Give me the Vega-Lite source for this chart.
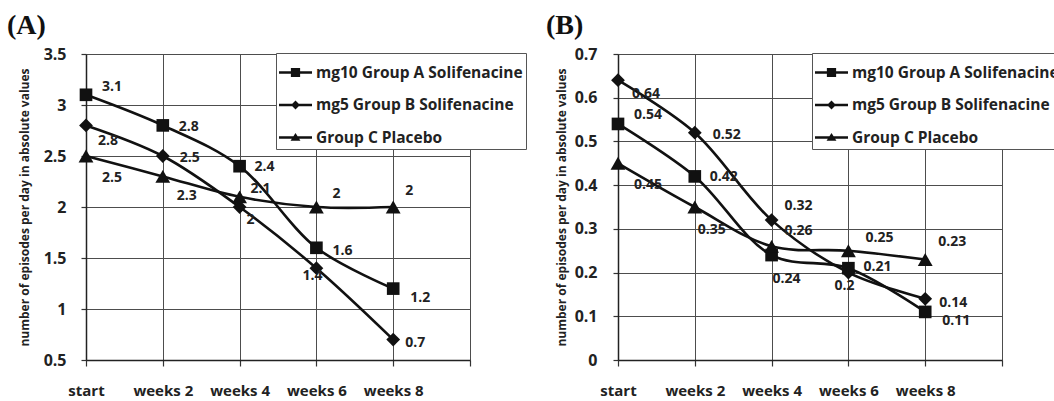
{
  "$schema": "https://vega.github.io/schema/vega-lite/v6.json",
  "background": "white",
  "padding": {"left": 7, "top": 12, "right": 0, "bottom": 0},
  "bounds": "flush",
  "spacing": 148,
  "config": {
    "font": "Open Sans",
    "view": {"stroke": null},
    "axis": {
      "domainColor": "#222", "domainWidth": 1.5,
      "gridColor": "#4d4d4d", "gridWidth": 1,
      "tickColor": "#333", "tickWidth": 1.2,
      "labelFont": "Open Sans", "labelFontWeight": "bold", "labelColor": "#222",
      "titleFont": "Open Sans", "titleFontWeight": "bold", "titleColor": "#222",
      "labelFlush": false, "labelOverlap": false, "labelBound": false
    },
    "title": {"font": "Liberation Serif", "fontSize": 28, "fontWeight": "bold", "color": "#111", "anchor": "start", "frame": "group", "offset": 6}
  },
  "datasets": {
    "a": [
      {"group": "A", "series": "mg10 Group A Solifenacine", "week": 0, "value": 3.1},
      {"group": "A", "series": "mg10 Group A Solifenacine", "week": 1, "value": 2.8},
      {"group": "A", "series": "mg10 Group A Solifenacine", "week": 2, "value": 2.4},
      {"group": "A", "series": "mg10 Group A Solifenacine", "week": 3, "value": 1.6},
      {"group": "A", "series": "mg10 Group A Solifenacine", "week": 4, "value": 1.2},
      {"group": "B", "series": "mg5 Group B Solifenacine", "week": 0, "value": 2.8},
      {"group": "B", "series": "mg5 Group B Solifenacine", "week": 1, "value": 2.5},
      {"group": "B", "series": "mg5 Group B Solifenacine", "week": 2, "value": 2.0},
      {"group": "B", "series": "mg5 Group B Solifenacine", "week": 3, "value": 1.4},
      {"group": "B", "series": "mg5 Group B Solifenacine", "week": 4, "value": 0.7},
      {"group": "C", "series": "Group C Placebo", "week": 0, "value": 2.5},
      {"group": "C", "series": "Group C Placebo", "week": 1, "value": 2.3},
      {"group": "C", "series": "Group C Placebo", "week": 2, "value": 2.1},
      {"group": "C", "series": "Group C Placebo", "week": 3, "value": 2.0},
      {"group": "C", "series": "Group C Placebo", "week": 4, "value": 2.0}
    ],
    "b": [
      {"group": "A", "series": "mg10 Group A Solifenacine", "week": 0, "value": 0.54},
      {"group": "A", "series": "mg10 Group A Solifenacine", "week": 1, "value": 0.42},
      {"group": "A", "series": "mg10 Group A Solifenacine", "week": 2, "value": 0.24},
      {"group": "A", "series": "mg10 Group A Solifenacine", "week": 3, "value": 0.21},
      {"group": "A", "series": "mg10 Group A Solifenacine", "week": 4, "value": 0.11},
      {"group": "B", "series": "mg5 Group B Solifenacine", "week": 0, "value": 0.64},
      {"group": "B", "series": "mg5 Group B Solifenacine", "week": 1, "value": 0.52},
      {"group": "B", "series": "mg5 Group B Solifenacine", "week": 2, "value": 0.32},
      {"group": "B", "series": "mg5 Group B Solifenacine", "week": 3, "value": 0.2},
      {"group": "B", "series": "mg5 Group B Solifenacine", "week": 4, "value": 0.14},
      {"group": "C", "series": "Group C Placebo", "week": 0, "value": 0.45},
      {"group": "C", "series": "Group C Placebo", "week": 1, "value": 0.35},
      {"group": "C", "series": "Group C Placebo", "week": 2, "value": 0.26},
      {"group": "C", "series": "Group C Placebo", "week": 3, "value": 0.25},
      {"group": "C", "series": "Group C Placebo", "week": 4, "value": 0.23}
    ]
  },
  "hconcat": [
    {
      "width": 384,
      "height": 306,
      "title": {"text": "(A)", "dx": -79},
      "data": {"name": "a"},
      "encoding": {
        "x": {"field": "week", "type": "quantitative", "scale": {"domain": [0, 5], "nice": false},
          "axis": {"values": [0, 1, 2, 3, 4, 5], "labelExpr": "['start','weeks 2','weeks 4','weeks 6','weeks 8',''][datum.value]", "title": null, "grid": true, "tickSize": 6, "labelPadding": 17, "labelFontSize": 15}},
        "y": {"field": "value", "type": "quantitative", "scale": {"domain": [0.5, 3.5], "nice": false, "zero": false},
          "axis": {"values": [0.5, 1, 1.5, 2, 2.5, 3, 3.5], "format": "~g", "title": "number of episodes per day in absolute values", "titleFontSize": 12, "titlePadding": 12, "tickSize": 5, "labelPadding": 15, "labelFontSize": 16, "grid": true}}
      },
      "layer": [
        {"mark": {"type": "line", "interpolate": "catmull-rom", "color": "#111", "strokeWidth": 2.6}, "encoding": {"detail": {"field": "series"}}},
        {"mark": {"type": "point", "filled": true, "opacity": 1, "color": "#111"},
          "encoding": {
            "shape": {"field": "series", "scale": {"domain": ["mg10 Group A Solifenacine", "mg5 Group B Solifenacine", "Group C Placebo"], "range": ["square", "diamond", "triangle-up"]}, "legend": null},
            "size": {"field": "series", "scale": {"domain": ["mg10 Group A Solifenacine", "mg5 Group B Solifenacine", "Group C Placebo"], "range": [160, 220, 190]}, "legend": null}
          }},
        {"mark": {"type": "point", "filled": true, "opacity": 0, "color": "#111"},
          "encoding": {
            "shape": {"field": "series", "scale": {"domain": ["mg10 Group A Solifenacine", "mg5 Group B Solifenacine", "Group C Placebo"], "range": ["M-1,-0.075H1V0.075H-1Z M-0.28,-0.28H0.28V0.28H-0.28Z", "M-1,-0.075H1V0.075H-1Z M0,-0.27L0.27,0L0,0.27L-0.27,0Z", "M-1,-0.075H1V0.075H-1Z M0,-0.28L0.3,0.2H-0.3Z"]},
              "legend": {"title": null, "orient": "none", "legendX": 190, "legendY": -1, "padding": 3, "rowPadding": 7.5, "symbolSize": 1089, "symbolOpacity": 1, "symbolFillColor": "#111", "symbolStrokeWidth": 0, "labelFont": "Open Sans", "labelFontWeight": "bold", "labelFontSize": 15.5, "labelColor": "#222", "labelOffset": 4, "labelLimit": 400, "fillColor": "white", "strokeColor": "#555"}}
          }},
        {"mark": {"type": "text", "font": "Open Sans", "fontWeight": "bold", "fontSize": 14, "color": "#222", "align": "center", "baseline": "middle",
            "dx": {"expr": "({'A0':26,'A1':26,'A2':25,'A3':26,'A4':27,'B0':22,'B1':27,'B2':11,'B3':-4,'B4':22,'C0':26,'C1':24,'C2':21,'C3':20,'C4':16})[datum.group + datum.week]"},
            "dy": {"expr": "({'A0':-8,'A1':2,'A2':1,'A3':3,'A4':9,'B0':16,'B1':2,'B2':13,'B3':8,'B4':3,'C0':22,'C1':20,'C2':-8,'C3':-13,'C4':-16})[datum.group + datum.week]"}},
          "encoding": {"text": {"field": "value", "type": "quantitative", "format": "~g"}}}
      ],
      "resolve": {"scale": {"shape": "independent"}, "legend": {"shape": "independent"}}
    },
    {
      "width": 384,
      "height": 306,
      "title": {"text": "(B)", "dx": -72},
      "data": {"name": "b"},
      "encoding": {
        "x": {"field": "week", "type": "quantitative", "scale": {"domain": [0, 5], "nice": false},
          "axis": {"values": [0, 1, 2, 3, 4, 5], "labelExpr": "['start','weeks 2','weeks 4','weeks 6','weeks 8',''][datum.value]", "title": null, "grid": true, "tickSize": 6, "labelPadding": 17, "labelFontSize": 15}},
        "y": {"field": "value", "type": "quantitative", "scale": {"domain": [0, 0.7], "nice": false},
          "axis": {"values": [0, 0.1, 0.2, 0.3, 0.4, 0.5, 0.6, 0.7], "format": "~g", "title": "number of episodes per day in absolute values", "titleFontSize": 12, "titlePadding": 6, "tickSize": 5, "labelPadding": 16, "labelFontSize": 16, "grid": true}}
      },
      "layer": [
        {"mark": {"type": "line", "interpolate": "catmull-rom", "color": "#111", "strokeWidth": 2.6}, "encoding": {"detail": {"field": "series"}}},
        {"mark": {"type": "point", "filled": true, "opacity": 1, "color": "#111"},
          "encoding": {
            "shape": {"field": "series", "scale": {"domain": ["mg10 Group A Solifenacine", "mg5 Group B Solifenacine", "Group C Placebo"], "range": ["square", "diamond", "triangle-up"]}, "legend": null},
            "size": {"field": "series", "scale": {"domain": ["mg10 Group A Solifenacine", "mg5 Group B Solifenacine", "Group C Placebo"], "range": [160, 220, 190]}, "legend": null}
          }},
        {"mark": {"type": "point", "filled": true, "opacity": 0, "color": "#111"},
          "encoding": {
            "shape": {"field": "series", "scale": {"domain": ["mg10 Group A Solifenacine", "mg5 Group B Solifenacine", "Group C Placebo"], "range": ["M-1,-0.075H1V0.075H-1Z M-0.28,-0.28H0.28V0.28H-0.28Z", "M-1,-0.075H1V0.075H-1Z M0,-0.27L0.27,0L0,0.27L-0.27,0Z", "M-1,-0.075H1V0.075H-1Z M0,-0.28L0.3,0.2H-0.3Z"]},
              "legend": {"title": null, "orient": "none", "legendX": 194, "legendY": -1, "padding": 3, "rowPadding": 7.5, "symbolSize": 1089, "symbolOpacity": 1, "symbolFillColor": "#111", "symbolStrokeWidth": 0, "labelFont": "Open Sans", "labelFontWeight": "bold", "labelFontSize": 15.5, "labelColor": "#222", "labelOffset": 4, "labelLimit": 400, "fillColor": "white", "strokeColor": "#555"}}
          }},
        {"mark": {"type": "text", "font": "Open Sans", "fontWeight": "bold", "fontSize": 14, "color": "#222", "align": "center", "baseline": "middle",
            "dx": {"expr": "({'A0':30,'A1':29,'A2':15,'A3':29,'A4':31,'B0':28,'B1':32,'B2':27,'B3':-4,'B4':28,'C0':30,'C1':17,'C2':27,'C3':31,'C4':27})[datum.group + datum.week]"},
            "dy": {"expr": "({'A0':-9,'A1':1,'A2':24,'A3':-1,'A4':9,'B0':14,'B1':2,'B2':-14,'B3':13,'B4':4,'C0':22,'C1':23,'C2':-15,'C3':-13,'C4':-17})[datum.group + datum.week]"}},
          "encoding": {"text": {"field": "value", "type": "quantitative", "format": "~g"}}}
      ],
      "resolve": {"scale": {"shape": "independent"}, "legend": {"shape": "independent"}}
    }
  ]
}
